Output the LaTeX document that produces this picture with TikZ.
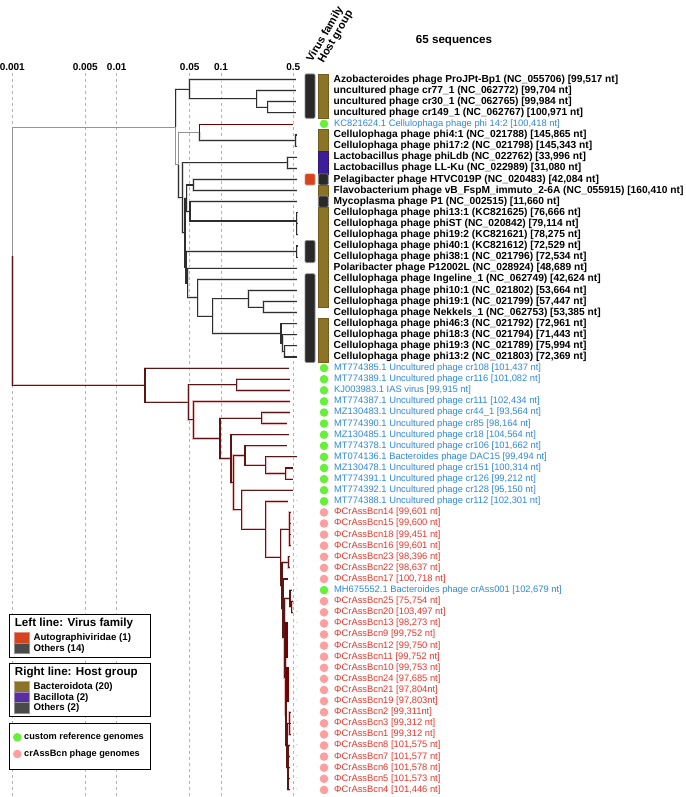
\documentclass[tikz,border=0pt]{standalone}
\usepackage{fontspec}
\setmainfont{Liberation Sans}
\definecolor{hostgold}{HTML}{8C7426}
\definecolor{hostpurple}{HTML}{3D1E9A}
\definecolor{legpurple}{HTML}{5A2EA0}
\definecolor{legdark}{HTML}{4A4A4A}
\definecolor{autogred}{HTML}{D4441F}
\definecolor{refgreen}{HTML}{66F03A}
\definecolor{bcnpink}{HTML}{FF9E9E}
\definecolor{refblue}{HTML}{2F88D8}
\definecolor{bcnred}{HTML}{E8352B}
\definecolor{cladered}{HTML}{5C1414}
\definecolor{cladehalo}{HTML}{E8BDBD}
\definecolor{gridgrey}{HTML}{B4B4B4}
% row position of tip i
\newcommand\ry[1]{79.5+11.1*(#1)}
% one coloured cell column: x, first row, last row, style
\newcommand\cellbar[4]{\path[#4] (#1,{\ry{#2}-5.55}) rectangle (#1+10,{\ry{#3}+5.55});}
% branches as parent/child
\def\greyedges{root/nA,nA/nB,nB/nC}
\def\blkedges{nA/n1,n1/t0,n1/n2,n2/t1,n2/n3,n3/t2,n3/t3,nC/nP4,nP4/t5,nP4/t6,
  nB/nD,nD/nL,nL/t7,nL/t8,nD/nE,nE/nE1,nE1/nPF,nPF/t9,nPF/t10,nE1/nMy,nMy/t11,
  nMy/n13,n13/t12,n13/t13,n13/t14,nE/nG,nG/n40,n40/t15,n40/t16,nG/nG2,nG2/t17,
  nG2/nH,nH/t18,nH/nI,nI/nJ,nJ/t19,nJ/n19,n19/t20,n19/t21,nI/nK,nK/t22,nK/nK2,
  nK2/t23,nK2/nK3,nK3/t24,nK3/t25}
\def\crassedges{root/nLc,nLc/t26,nLc/nM,nM/nN,nN/t27,nN/t28,nM/nO,nO/t29,nO/nP,
  nP/nQ,nQ/t30,nQ/t31,nP/nR,nR/t32,nR/nR2,nR2/nT,nT/t33,nT/nU,nU/t34,nU/nV,
  nV/t35,nV/t36,nR2/nS,nS/t37,nS/nW,nW/t38,nW/X,X/X1,X1/t39,X1/t40,X1/t41,
  X1/t42,X/Xb,Xb/X2,X2/t43,X2/t44,Xb/Xc,Xc/t45,Xc/Xd,Xd/Z,Z/t46,Z/Z2,Z2/t47,
  Z2/t48,Xd/Xe,Xe/G13,Xe/Xf,Xf/G10,Xf/Xg,Xg/G2,G2/t57,G2/t58,G2/t59,Xg/G8,
  G8/t60,G8/t61,G8/t62,G8/t63,G8/t64}
\def\fatedges{G13/t49,G13/t50,G13/t51,G13/t52,G10/t53,G10/t54,G10/t55,G10/t56}
\tikzset{
  gridline/.style={gridgrey, dash pattern=on 3pt off 3pt, line width=0.6pt},
  scalelab/.style={font=\fontsize{10}{12}\selectfont\bfseries},
  halo/.style={draw=#1, line width=2.4pt},
  brblk/.style={draw=black!82, line width=1.1pt},
  brgrey/.style={draw=black!42, line width=1pt},
  brred/.style={draw=cladered, line width=1.1pt},
  brfat/.style={draw=red!45!black, line width=2.6pt},
  brkc/.style={draw=red!45!black, line width=0.7pt},
  lblk/.style={anchor=west, inner sep=0pt, font=\fontsize{10.2}{12}\selectfont\bfseries},
  lblue/.style={anchor=west, inner sep=0pt, text=refblue, font=\fontsize{9.35}{11}\selectfont},
  lred/.style={anchor=west, inner sep=0pt, text=bcnred, font=\fontsize{9.35}{11}\selectfont},
  refdot/.style={circle, inner sep=0pt, minimum size=8.6pt, fill=refgreen},
  bcndot/.style={circle, inner sep=0pt, minimum size=8.6pt, fill=bcnpink},
  bardark/.style={fill=black!84, draw=black!45, line width=0.7pt, rounded corners=1.2pt},
  bargold/.style={fill=hostgold, draw=hostgold!80!black, line width=0.5pt},
  barpurple/.style={fill=hostpurple, draw=hostpurple!80!black, line width=0.5pt},
  barred/.style={fill=autogred, draw=autogred!60!white, line width=0.7pt, rounded corners=1.2pt},
  headlab/.style={rotate=60, anchor=base west, inner sep=0pt, font=\fontsize{11}{13}\selectfont\bfseries},
  legbox/.style={draw, line width=1.4pt, fill=white, inner sep=0pt},
  legtitle/.style={anchor=west, inner sep=0pt, font=\fontsize{11.6}{13}\selectfont\bfseries},
  legitem/.style={anchor=west, inner sep=0pt, font=\fontsize{9.7}{11}\selectfont\bfseries},
  swatch/.style={fill=#1, draw=#1!60!white, line width=0.5pt}
}

\begin{document}
\begin{tikzpicture}[x=1pt, y=-1pt]
\useasboundingbox[fill=white] (0,0) rectangle (685,797);
% Scale
\foreach \v/\x [count=\k] in {0.001/12.3,0.005/85.3,0.01/116.7,0.05/189.7,0.1/221.1,0.5/293.3} {
  \draw[gridline] (\x,73) -- (\x,797);
  \node[scalelab] (scale\k) at (\x,67.5) {\v};
}
\node[font=\fontsize{11.6}{14}\selectfont\bfseries] (title) at (454,41) {65 sequences};
\node[headlab] (headvf) at (312,63) {Virus family};
\node[headlab] (headhg) at (323.5,64) {Host group};
% Tips
\foreach \i/\x in {0/296,1/296,2/296,3/296,4/293.3,5/297,6/297,7/297,8/297,9/296.7,
  10/296.7,11/296.7,12/298,13/298,14/298,15/298,16/298,17/296.7,18/296.7,19/296.7,
  20/296.7,21/296.7,22/296.7,23/296.7,24/296.7,25/296.7,26/289.3,27/290.3,28/290,
  29/290,30/290,31/286.7,32/289.3,33/286.7,34/296.7,35/293,36/293,37/293.3,38/287.7,
  39/290.5,40/290.5,41/290.5,42/290.5,43/289.5,44/289.5,45/288,46/292,47/293,48/293,
  49/288,50/288,51/288,52/288,53/289,54/289,55/289,56/289,57/290.5,58/290.5,59/290.5,
  60/289.5,61/289.5,62/289.5,63/289.5,64/289.5}
  \coordinate (t\i) at (\x,{\ry{\i}});
% Inner nodes
\coordinate (root) at (12.3,{\ry{15.92}});
\coordinate (nA) at (175.7,{\ry{4.29}});
\coordinate (n1) at (189.3,{\ry{0.875}});
\coordinate (n2) at (256.7,{\ry{1.75}});
\coordinate (n3) at (267.7,{\ry{2.5}});
\coordinate (nB) at (178.3,{\ry{7.7}});
\coordinate (nC) at (199.3,{\ry{4.75}});
\coordinate (nP4) at (295.3,{\ry{5.5}});
\coordinate (nD) at (182.3,{\ry{10.65}});
\coordinate (nL) at (287.3,{\ry{7.5}});
\coordinate (nE) at (185,{\ry{13.8}});
\coordinate (nE1) at (186.7,{\ry{10.69}});
\coordinate (nPF) at (193.3,{\ry{9.5}});
\coordinate (nMy) at (190,{\ry{11.875}});
\coordinate (n13) at (296.7,{\ry{12.75}});
\coordinate (nG) at (186,{\ry{16.91}});
\coordinate (n40) at (296.7,{\ry{15.5}});
\coordinate (nG2) at (187.7,{\ry{18.33}});
\coordinate (nH) at (197.7,{\ry{19.656}});
\coordinate (nI) at (212.7,{\ry{21.3125}});
\coordinate (nJ) at (248.3,{\ry{19.75}});
\coordinate (n19) at (263.3,{\ry{20.5}});
\coordinate (nK) at (281,{\ry{22.875}});
\coordinate (nK2) at (282.3,{\ry{23.75}});
\coordinate (nK3) at (284.3,{\ry{24.5}});
\coordinate (nLc) at (145,{\ry{27.54}});
\coordinate (nM) at (188.3,{\ry{29.08}});
\coordinate (nN) at (236.7,{\ry{27.5}});
\coordinate (nO) at (193.3,{\ry{30.67}});
\coordinate (nP) at (220,{\ry{32.33}});
\coordinate (nQ) at (261.7,{\ry{30.5}});
\coordinate (nR) at (231,{\ry{34.16}});
\coordinate (nR2) at (233.3,{\ry{36.32}});
\coordinate (nT) at (245,{\ry{33.875}});
\coordinate (nU) at (265.7,{\ry{34.75}});
\coordinate (nV) at (285.7,{\ry{35.5}});
\coordinate (nS) at (241.7,{\ry{38.76}});
\coordinate (nW) at (265.7,{\ry{40.52}});
\coordinate (X) at (280.7,{\ry{43.04}});
\coordinate (X1) at (289.3,{\ry{40.5}});
\coordinate (Xb) at (282,{\ry{45.58}});
\coordinate (X2) at (288.3,{\ry{43.5}});
\coordinate (Xc) at (283,{\ry{47.66}});
\coordinate (Xd) at (284.3,{\ry{50.31}});
\coordinate (Z) at (290,{\ry{46.75}});
\coordinate (Z2) at (291.7,{\ry{47.5}});
\coordinate (Xe) at (285.3,{\ry{53.875}});
\coordinate (G13) at (286.5,{\ry{50.5}});
\coordinate (Xf) at (286,{\ry{57.25}});
\coordinate (G10) at (287.5,{\ry{54.5}});
\coordinate (Xg) at (287,{\ry{60}});
\coordinate (G2) at (289.3,{\ry{58}});
\coordinate (G8) at (288,{\ry{62}});
% Branches
\foreach \pa/\ch in \blkedges \draw[halo=black!15] (\pa) |- (\ch);
\foreach \pa/\ch in \crassedges \draw[halo=cladehalo] (\pa) |- (\ch);
\foreach \pa/\ch in \greyedges \draw[brgrey] (\pa) |- (\ch);
\draw[brkc] (nC) |- (t4);
\foreach \pa/\ch in \blkedges \draw[brblk] (\pa) |- (\ch);
\foreach \pa/\ch in \crassedges \draw[brred] (\pa) |- (\ch);
\foreach \pa/\ch in \fatedges \draw[brfat] (\pa) |- (\ch);
\foreach \i in {38,...,64} \fill[gridgrey] (296.8,{\ry{\i}-1}) circle (0.55);
% Virus family
\cellbar{305}{0}{3}{bardark}
\cellbar{305}{9}{9}{barred}
\cellbar{305}{15}{16}{bardark}
\cellbar{305}{18}{25}{bardark}
% Host group
\cellbar{318.3}{0}{3}{bargold}
\cellbar{318.3}{5}{6}{bargold}
\cellbar{318.3}{7}{8}{barpurple}
\cellbar{318.3}{9}{9}{bardark}
\cellbar{318.3}{10}{10}{bargold}
\cellbar{318.3}{11}{11}{bardark}
\cellbar{318.3}{12}{20}{bargold}
\cellbar{318.3}{22}{25}{bargold}
% Markers
\foreach \i in {4,26,27,...,38,46} \node[refdot] (dot\i) at (324,{\ry{\i}}) {};
\foreach \i in {39,...,45,47,48,...,64} \node[bcndot] (dot\i) at (324,{\ry{\i}}) {};
% Labels
\foreach \i/\s in {
  0/Azobacteroides phage ProJPt-Bp1 (NC\_055706) [99{,}517 nt],
  1/uncultured phage cr77\_1 (NC\_062772) [99{,}704 nt],
  2/uncultured phage cr30\_1 (NC\_062765) [99{,}984 nt],
  3/uncultured phage cr149\_1 (NC\_062767) [100{,}971 nt],
  5/Cellulophaga phage phi4:1 (NC\_021788) [145{,}865 nt],
  6/Cellulophaga phage phi17:2 (NC\_021798) [145{,}343 nt],
  7/Lactobacillus phage phiLdb (NC\_022762) [33{,}996 nt],
  8/Lactobacillus phage LL-Ku (NC\_022989) [31{,}080 nt],
  9/Pelagibacter phage HTVC019P (NC\_020483) [42{,}084 nt],
  10/Flavobacterium phage vB\_FspM\_immuto\_2-6A (NC\_055915) [160{,}410 nt],
  11/Mycoplasma phage P1 (NC\_002515) [11{,}660 nt],
  12/Cellulophaga phage phi13:1 (KC821625) [76{,}666 nt],
  13/Cellulophaga phage phiST (NC\_020842) [79{,}114 nt],
  14/Cellulophaga phage phi19:2 (KC821621) [78{,}275 nt],
  15/Cellulophaga phage phi40:1 (KC821612) [72{,}529 nt],
  16/Cellulophaga phage phi38:1 (NC\_021796) [72{,}534 nt],
  17/Polaribacter phage P12002L (NC\_028924) [48{,}689 nt],
  18/Cellulophaga phage Ingeline\_1 (NC\_062749) [42{,}624 nt],
  19/Cellulophaga phage phi10:1 (NC\_021802) [53{,}664 nt],
  20/Cellulophaga phage phi19:1 (NC\_021799) [57{,}447 nt],
  21/Cellulophaga phage Nekkels\_1 (NC\_062753) [53{,}385 nt],
  22/Cellulophaga phage phi46:3 (NC\_021792) [72{,}961 nt],
  23/Cellulophaga phage phi18:3 (NC\_021794) [71{,}443 nt],
  24/Cellulophaga phage phi19:3 (NC\_021789) [75{,}994 nt],
  25/Cellulophaga phage phi13:2 (NC\_021803) [72{,}369 nt]}
  \node[lblk] (lab\i) at (333.5,{\ry{\i}}) {\s};
\foreach \i/\s in {
  4/KC821624.1 Cellulophaga phage phi 14:2 [100{,}418 nt],
  26/MT774385.1 Uncultured phage cr108 [101{,}437 nt],
  27/MT774389.1 Uncultured phage cr116 [101{,}082 nt],
  28/KJ003983.1 IAS virus [99{,}915 nt],
  29/MT774387.1 Uncultured phage cr111 [102{,}434 nt],
  30/MZ130483.1 Uncultured phage cr44\_1 [93{,}564 nt],
  31/MT774390.1 Uncultured phage cr85 [98{,}164 nt],
  32/MZ130485.1 Uncultured phage cr18 [104{,}564 nt],
  33/MT774378.1 Uncultured phage cr106 [101{,}662 nt],
  34/MT074136.1 Bacteroides phage DAC15 [99{,}494 nt],
  35/MZ130478.1 Uncultured phage cr151 [100{,}314 nt],
  36/MT774391.1 Uncultured phage cr126 [99{,}212 nt],
  37/MT774392.1 Uncultured phage cr128 [95{,}150 nt],
  38/MT774388.1 Uncultured phage cr112 [102{,}301 nt],
  46/MH675552.1 Bacteroides phage crAss001 [102{,}679 nt]}
  \node[lblue] (lab\i) at (334,{\ry{\i}}) {\s};
\foreach \i/\s in {
  39/14 [99{,}601 nt], 40/15 [99{,}600 nt], 41/18 [99{,}451 nt],
  42/16 [99{,}601 nt], 43/23 [98{,}396 nt], 44/22 [98{,}637 nt],
  45/17 [100{,}718 nt], 47/25 [75{,}754 nt], 48/20 [103{,}497 nt],
  49/13 [98{,}273 nt], 50/9 [99{,}752 nt], 51/12 [99{,}750 nt],
  52/11 [99{,}752 nt], 53/10 [99{,}753 nt], 54/24 [97{,}685 nt],
  55/21 [97{,}804nt], 56/19 [97{,}803nt], 57/2 [99{,}311nt],
  58/3 [99{,}312 nt], 59/1 [99{,}312 nt], 60/8 [101{,}575 nt],
  61/7 [101{,}577 nt], 62/6 [101{,}578 nt], 63/5 [101{,}573 nt],
  64/4 [101{,}446 nt]}
  \node[lred] (lab\i) at (334,{\ry{\i}}) {ΦCrAssBcn\s};
% Legends
\node[legbox, minimum width=141.4pt, minimum height=43pt] (legvf) at (80,635.8) {};
\node[legtitle] (legvft) at (14.7,623.3) {Left line: Virus family};
\path[swatch=autogred] (14.7,632.7) rectangle (29.3,643.3);
\node[legitem] (legvf1) at (33.3,638.2) {Autographiviridae (1)};
\path[swatch=legdark] (14.7,643.3) rectangle (29.3,653.3);
\node[legitem] (legvf2) at (33.3,648.6) {Others (14)};
\node[legbox, minimum width=141.4pt, minimum height=53.4pt] (leghg) at (80,690) {};
\node[legtitle] (leghgt) at (14.7,672.3) {Right line: Host group};
\path[swatch=hostgold] (14.7,681.7) rectangle (29.3,692.3);
\node[legitem] (leghg1) at (33.3,687) {Bacteroidota (20)};
\path[swatch=legpurple] (14.7,692.3) rectangle (29.3,702.7);
\node[legitem] (leghg2) at (33.3,697.6) {Bacillota (2)};
\path[swatch=legdark] (14.7,702.7) rectangle (29.3,713.3);
\node[legitem] (leghg3) at (33.3,708.2) {Others (2)};
\node[legbox, minimum width=141.4pt, minimum height=46pt] (legdot) at (80,746.3) {};
\node[refdot] (legdot1) at (17.3,737.3) {};
\node[legitem, font=\fontsize{9.2}{11}\selectfont\bfseries] (legdot1t) at (24,737.3) {custom reference genomes};
\node[bcndot] (legdot2) at (17.3,754) {};
\node[legitem, font=\fontsize{9.2}{11}\selectfont\bfseries] (legdot2t) at (24,754) {crAssBcn phage genomes};
\end{tikzpicture}
\end{document}
